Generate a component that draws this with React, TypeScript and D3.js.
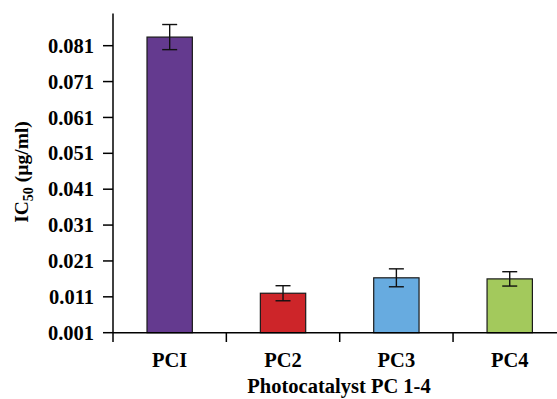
import React from "react";
import * as d3 from "d3";

const categories = ["PCI", "PC2", "PC3", "PC4"];
const values = [0.0834, 0.012, 0.0163, 0.016];
const errors = [0.0035, 0.0021, 0.0025, 0.002];
const colors = ["#643a8f", "#cd2529", "#67abe0", "#a3c95c"];
const yTicks = [0.001, 0.011, 0.021, 0.031, 0.041, 0.051, 0.061, 0.071, 0.081];

const W = 557;
const H = 399;
const font = "'Liberation Serif', 'Times New Roman', serif";

export default function App() {
  const x = d3.scaleBand<string>().domain(categories).range([113, 566.4]).paddingInner(0.6).paddingOuter(0.3);
  const y = d3.scaleLinear().domain([0.001, 0.09]).range([332.7, 13.4]);
  const bw = x.bandwidth();
  const step = x.step();
  const fmt = d3.format(".3f");

  return (
    <svg width={W} height={H} style={{ position: "absolute", left: 0, top: 0, background: "#fff" }}>
      <g fontFamily={font} fontWeight="bold" fill="#000">
        {/* bars */}
        {categories.map((c, i) => (
          <rect key={c} x={x(c)} y={y(values[i])} width={bw} height={y(0.001) - y(values[i])}
            fill={colors[i]} stroke="#1a1a1a" strokeWidth={1.2} />
        ))}
        {/* error bars */}
        {categories.map((c, i) => {
          const cx = (x(c) as number) + bw / 2;
          const t = y(values[i] + errors[i]);
          const b = y(values[i] - errors[i]);
          return (
            <g key={c + "e"} stroke="#111" strokeWidth={1.4}>
              <line x1={cx} x2={cx} y1={t} y2={b} />
              <line x1={cx - 7.5} x2={cx + 7.5} y1={t} y2={t} />
              <line x1={cx - 7.5} x2={cx + 7.5} y1={b} y2={b} />
            </g>
          );
        })}
        {/* y axis */}
        <line x1={113} x2={113} y1={y(0.09)} y2={342} stroke="#000" strokeWidth={1.5} />
        {yTicks.map((t) => (
          <g key={t}>
            <line x1={103} x2={113} y1={y(t)} y2={y(t)} stroke="#000" strokeWidth={1.5} />
            <text x={94} y={y(t)} dy="0.35em" textAnchor="end" fontSize={20.5}>{fmt(t)}</text>
          </g>
        ))}
        {/* x axis */}
        <line x1={113} x2={W} y1={y(0.001)} y2={y(0.001)} stroke="#000" strokeWidth={1.5} />
        {categories.map((c, i) => (
          <g key={c + "t"}>
            {i > 0 && (
              <line x1={113 + step * i} x2={113 + step * i} y1={y(0.001)} y2={342} stroke="#000" strokeWidth={1.5} />
            )}
            <text x={(x(c) as number) + bw / 2} y={367} textAnchor="middle" fontSize={20.5}>{c}</text>
          </g>
        ))}
        <text x={339} y={393} textAnchor="middle" fontSize={20.5}>Photocatalyst PC 1-4</text>
        <text transform="translate(28,172) rotate(-90)" textAnchor="middle" fontSize={19.5}>
          IC<tspan fontSize={14} dy="5">50</tspan><tspan dy="-5"> (µg/ml)</tspan>
        </text>
      </g>
    </svg>
  );
}
